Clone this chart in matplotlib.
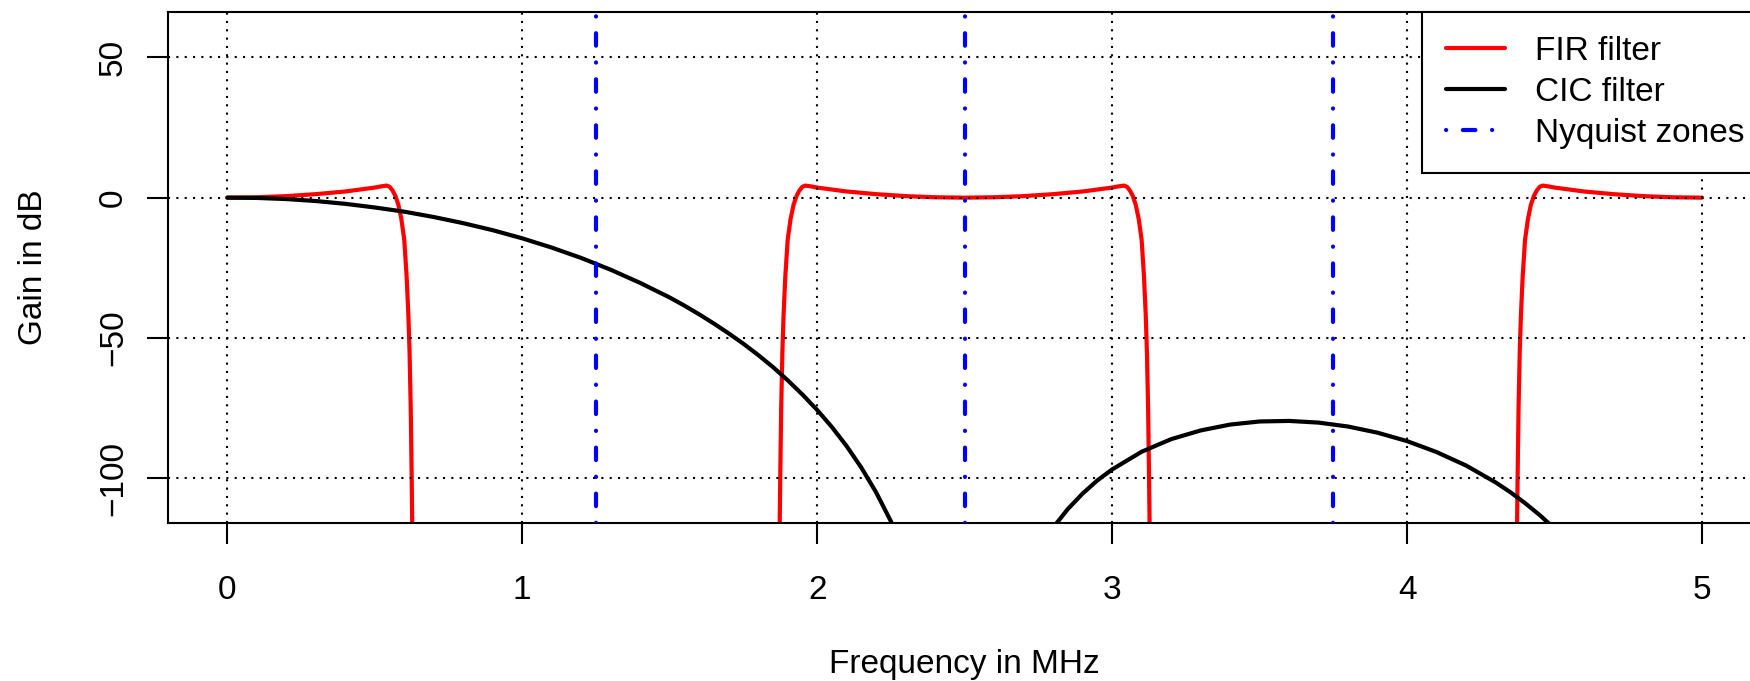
import matplotlib
matplotlib.use("Agg")
import matplotlib.pyplot as plt

# Data
#---------------------------
fir_freq = [0.0, 0.1, 0.2, 0.3, 0.4, 0.5, 0.52, 0.54, 0.55, 0.56, 0.57, 0.58, 0.59, 0.60,
            0.608, 0.614, 0.618, 0.622, 0.625, 0.628, 0.632,
            1.868, 1.872, 1.875, 1.878, 1.882, 1.886, 1.892, 1.90, 1.91, 1.92, 1.93, 1.94,
            1.95, 1.96, 1.98, 2.0, 2.1, 2.2, 2.3, 2.4, 2.5, 2.6, 2.7, 2.8, 2.9, 3.0, 3.02,
            3.04, 3.05, 3.06, 3.07, 3.08, 3.09, 3.10, 3.108, 3.114, 3.118, 3.122, 3.125,
            3.128, 3.132,
            4.368, 4.372, 4.375, 4.378, 4.382, 4.386, 4.392, 4.40, 4.41, 4.42, 4.43, 4.44,
            4.45, 4.46, 4.48, 4.5, 4.6, 4.7, 4.8, 4.9, 5.0]
fir_gain = [0.0, 0.14, 0.55, 1.25, 2.2, 3.6, 4.0, 4.3, 3.9, 2.6, 0.6, -2.5, -7.5, -15,
            -28, -42, -55, -75, -98, -125, -140,
            -140, -125, -98, -75, -55, -42, -28, -15, -7.5, -2.5, 0.6, 2.6,
            3.9, 4.3, 4.0, 3.6, 2.2, 1.25, 0.55, 0.14, 0.0, 0.14, 0.55, 1.25, 2.2, 3.6, 4.0,
            4.3, 3.9, 2.6, 0.6, -2.5, -7.5, -15, -28, -42, -55, -75, -98,
            -125, -140,
            -140, -125, -98, -75, -55, -42, -28, -15, -7.5, -2.5, 0.6, 2.6,
            3.9, 4.3, 4.0, 3.6, 2.2, 1.25, 0.55, 0.14, 0.0]

cic_freq = [0.0, 0.1, 0.2, 0.3, 0.4, 0.5, 0.6, 0.7, 0.8, 0.9, 1.0, 1.1, 1.2, 1.3, 1.4,
            1.5, 1.55, 1.6, 1.65, 1.7, 1.75, 1.8, 1.85, 1.9, 1.95, 2.0, 2.05, 2.1, 2.15,
            2.2, 2.25, 2.3,
            2.8, 2.85, 2.9, 2.95, 3.0, 3.1, 3.2, 3.3, 3.4, 3.5, 3.6, 3.7, 3.8, 3.9, 4.0,
            4.1, 4.2, 4.3, 4.35, 4.4, 4.45, 4.5]
cic_gain = [0.0, -0.1, -0.5, -1.2, -2.2, -3.5, -5.0, -6.9, -9.1, -11.6, -14.5, -17.8,
            -21.5, -25.7, -30.4, -35.6, -38.5, -41.6, -44.9, -48.4, -52.1, -56.1, -60.4,
            -65.1, -70.2, -75.7, -81.8, -88.6, -96.3, -105.1, -115.4, -127.8,
            -117.6, -111.0, -105.5, -100.8, -96.9, -90.6, -86.1, -83.0, -80.9, -79.8,
            -79.6, -80.2, -81.6, -83.8, -86.8, -90.7, -95.5, -101.5, -105.0, -108.9,
            -113.2, -118.0]

nyquist_edges = [1.25, 2.5, 3.75]

x_ticks = [0, 1, 2, 3, 4, 5]
y_ticks = [-100, -50, 0, 50]

# Style
#---------------------------
plt.rcParams['font.family'] = ['Liberation Sans', 'DejaVu Sans']
FS = 24
W, H = 1750, 681

fig = plt.figure(figsize=(W / 100, H / 100), dpi=100)
# axes box in pixels: left 168, top 12, bottom 523, right runs off the figure (~1761)
ax = fig.add_axes([168.3 / W, 1 - 523.3 / H, (1761.0 - 168.3) / W, (523.3 - 11.7) / H])

ax.plot(fir_freq, fir_gain, color="#FF0000", lw=3, solid_capstyle="round",
        solid_joinstyle="round", label="FIR filter", zorder=2)
ax.plot(cic_freq, cic_gain, color="black", lw=3, solid_capstyle="round",
        solid_joinstyle="round", label="CIC filter", zorder=2.1)

for i, f in enumerate(nyquist_edges):
    ax.axvline(f, color="#0000FF", lw=3, linestyle=(0, (0.05, 4, 3, 4)),
               dash_capstyle="round", zorder=3,
               label="Nyquist zones" if i == 0 else None)

# dotted black grid, on top of the curves like R's grid()
for xt in x_ticks:
    ax.axvline(xt, color="black", lw=1.5, linestyle=(0, (1, 3)), zorder=2.5)
for yt in y_ticks:
    ax.axhline(yt, color="black", lw=1.5, linestyle=(0, (1, 3)), zorder=2.5)

ax.set_xlim(-0.2, 5.2)
ax.set_ylim(-116.1, 66.3)
ax.set_xticks(x_ticks)
ax.set_xticklabels([str(v) for v in x_ticks])
ax.set_yticks(y_ticks)
ax.set_yticklabels(["\u2212100", "\u221250", "0", "50"], rotation=90, va="center")

ax.tick_params(axis="both", direction="out", length=14.9, width=1.5, labelsize=FS,
               color="black", labelcolor="black")
ax.tick_params(axis="x", pad=22)
ax.tick_params(axis="y", pad=13.5)

for s in ax.spines.values():
    s.set_linewidth(1.5)
    s.set_color("black")

fig.text(964.7 / W, 1 - 673.5 / H, "Frequency in MHz", fontsize=FS,
         ha="center", va="baseline")
fig.text(41.7 / W, 1 - 267.5 / H, "Gain in dB", fontsize=FS, rotation=90,
         rotation_mode="anchor", ha="center", va="baseline")

# legend box sticks out past the right edge, as in the reference
leg = ax.legend(loc="upper right", bbox_to_anchor=(1.0045, 1), borderaxespad=0,
                fontsize=FS, frameon=True, fancybox=False, framealpha=1,
                edgecolor="black", handlelength=1.76, handletextpad=0.9,
                labelspacing=0.30, borderpad=0.72)
leg.get_frame().set_linewidth(1.5)
leg.set_zorder(5)

fig.savefig("out.png", dpi=100)
